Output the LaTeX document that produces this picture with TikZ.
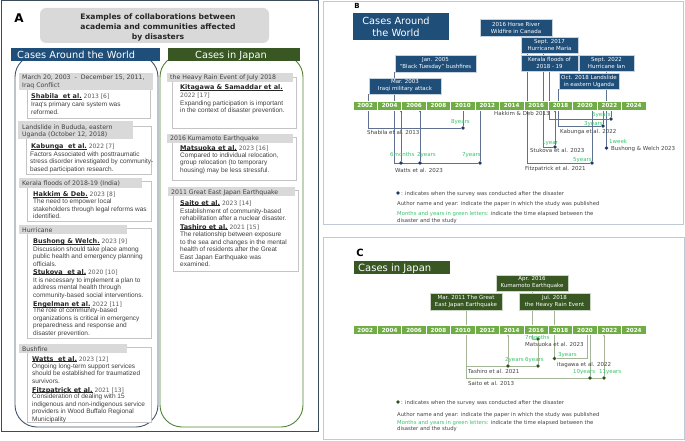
\documentclass[tikz,border=0pt]{standalone}
\usepackage{fontspec}
\setmainfont{DejaVu Sans}
\newfontfamily\bodyfont{Liberation Sans}
\usetikzlibrary{arrows.meta,backgrounds}

\definecolor{navy}{HTML}{1F4E79}
\definecolor{jgreen}{HTML}{385723}
\definecolor{wframe}{HTML}{44546A}
\definecolor{jframe}{HTML}{548235}
\definecolor{aborder}{HTML}{3B4A5C}
\definecolor{lblgray}{HTML}{D9D9D9}
\definecolor{boxline}{HTML}{C4C4C4}
\definecolor{bargreen}{HTML}{70AD47}
\definecolor{bline}{HTML}{5F7090}
\definecolor{bdot}{HTML}{1F3864}
\definecolor{cline}{HTML}{A3B596}
\definecolor{cdot}{HTML}{30501E}
\definecolor{yrsgreen}{HTML}{35C46A}
\definecolor{txtgray}{HTML}{404040}
\definecolor{authgray}{HTML}{595959}
\definecolor{panelline}{HTML}{C2C9D6}

% bold author name, underlined just under the baseline
\newcommand{\au}[1]{{\fontsize{6.5}{8}\selectfont\bfseries\color{black!85}\setbox0\hbox{#1}\rlap{\rule[-0.9pt]{\wd0}{0.45pt}}\box0}}

% multi-line nodes: the base anchor sits on the last line
\tikzset{
  wbox/.style={draw=boxline, fill=white, line width=0.5pt},
  glbl/.style={fill=lblgray},
  casetitle/.style={anchor=base west, inner sep=0pt, text=txtgray, align=left, font={\fontsize{6.2}{8}\selectfont}},
  author/.style={anchor=base west, inner sep=0pt, text=authgray, align=left, font={\fontsize{6}{8}\selectfont}},
  body/.style={anchor=base west, inner sep=0pt, text=txtgray, align=left, font={\bodyfont\fontsize{6.5}{7.5}\selectfont}},
  hdr/.style={anchor=base west, inner sep=0pt, text=white, align=left, font={\fontsize{9.8}{11.5}\selectfont}},
  evB/.style={fill=navy, draw=white!75!navy, line width=0.4pt, text=white, align=center, inner sep=0pt, font={\fontsize{5.5}{7}\selectfont}},
  evC/.style={evB, fill=jgreen, draw=white!75!jgreen},
  yearcell/.style={fill=bargreen, draw=white, line width=0.7pt, minimum width=24.42pt, minimum height=9pt, inner sep=0pt, text=white, font={\bfseries\fontsize{5.6}{6}\selectfont}},
  bl/.style={draw=bline, line width=0.7pt},
  cl/.style={draw=cline, line width=0.8pt},
  bdotst/.style={circle, fill=bdot, inner sep=0pt, minimum size=3.6pt},
  cdotst/.style={bdotst, fill=cdot},
  yrs/.style={anchor=base west, inner sep=0pt, text=yrsgreen, font={\fontsize{5.5}{6}\selectfont}},
  paper/.style={anchor=base west, inner sep=0pt, text=txtgray, font={\fontsize{5.5}{6}\selectfont}},
  legend/.style={anchor=base west, inner sep=0pt, text=txtgray, align=left, font={\fontsize{5.3}{6.7}\selectfont}},
  >={Stealth[length=2.4pt,width=2.2pt]}
}

\begin{document}
\begin{tikzpicture}[x=1pt,y=-1pt]
\useasboundingbox (0,0) rectangle (685,441);

% ---------- A ----------
\draw[aborder, line width=1pt] (1,1) rectangle (318,431);
\node[font={\bfseries\fontsize{12}{12}\selectfont}] (labA) at (19,18) {A};
\fill[lblgray, rounded corners=6pt] (40,8) rectangle (269,43);
\node[anchor=base, inner sep=0pt, align=center, text=black!85, font={\bfseries\fontsize{7.6}{10}\selectfont}] (titleA) at (158,39.5)
  {Examples of collaborations between\\academia and communities affected\\by disasters};

\draw[wframe, line width=0.9pt, rounded corners=22pt] (15,55) rectangle (158,427);
\draw[jframe, line width=0.9pt, rounded corners=22pt] (160,55) rectangle (303,427);
\fill[navy] (11,48) rectangle (160,61);
\node[hdr] (hdrW) at (17,58.5) {Cases Around the World};
\fill[jgreen] (168,48) rectangle (300,61);
\node[hdr] (hdrJ) at (195,58.5) {Cases in Japan};

% world cases
\draw[wbox] (27,80) rectangle (150,118);
\fill[glbl] (19,73) rectangle (153,90);
\node[casetitle] (w1t) at (22,88) {March 20, 2003\ \ -\ \ December 15, 2011,\\Iraq Conflict};
\node[author] (w1a) at (31,99) {\au{Shabila\ \ et al.} 2013 [6]};
\node[body] (w1b) at (31,114) {Iraq's primary care system was\\reformed.};

\draw[wbox] (26,126) rectangle (151,174);
\fill[glbl] (18,121) rectangle (133,139);
\node[casetitle] (w2t) at (22,137) {Landslide in Bududa, eastern\\Uganda (October 12, 2018)};
\node[author] (w2a) at (31,149) {\au{Kabunga\ \ et al.} 2022 [7]};
\node[body] (w2b) at (30,171.5) {Factors Associated with posttraumatic\\stress disorder investigated by community-\\based participation research.};

\draw[wbox] (27,181) rectangle (151,221);
\fill[glbl] (19,178) rectangle (142,188);
\node[casetitle] (w3t) at (22,185.5) {Kerala floods of 2018-19 (India)};
\node[author] (w3a) at (33,196.5) {\au{Hakkim \& Deb.} 2023 [8]};
\node[body] (w3b) at (33,218.5) {The need to empower local\\stakeholders through legal reforms was\\identified.};

\draw[wbox] (27,228) rectangle (151,338);
\fill[glbl] (19,225) rectangle (127,234);
\node[casetitle] (w4t) at (22,232) {Hurricane};
\node[author] (w4a) at (33,243.5) {\au{Bushong \& Welch.} 2023 [9]};
\node[body] (w4b) at (33,266) {Discussion should take place among\\public health and emergency planning\\officials.};
\node[author] (w4c) at (33,274) {\au{Stukova\ \ et al.} 2020 [10]};
\node[body] (w4d) at (33,297) {It is necessary to implement a plan to\\address mental health through\\community-based social interventions.};
\node[author] (w4e) at (33,306.5) {\au{Engelman et al.} 2022 [11]};
\node[body] (w4f) at (33,335) {The role of community-based\\organizations is critical in emergency\\preparedness and response and\\disaster prevention.};

\draw[wbox] (27,347) rectangle (151,422);
\fill[glbl] (19,344) rectangle (127,353);
\node[casetitle] (w5t) at (22,351) {Bushfire};
\node[author] (w5a) at (32,361) {\au{Watts\ \ et al.} 2023 [12]};
\node[body] (w5b) at (32,383) {Ongoing long-term support services\\should be established for traumatized\\survivors.};
\node[author] (w5c) at (32,392) {\au{Fitzpatrick et al.} 2021 [13]};
\node[body] (w5d) at (32,421) {Consideration of dealing with 15\\indigenous and non-indigenous service\\providers in Wood Buffalo Regional\\Municipality};

% japan cases
\draw[wbox] (172,77) rectangle (296,128);
\fill[glbl] (167,73) rectangle (293,82);
\node[casetitle] (j1t) at (170,80) {the Heavy Rain Event of July 2018};
\node[author] (j1a) at (180,98) {\au{Kitagawa \& Samaddar et al.}\\2022 [17]};
\node[body] (j1b) at (180,113) {Expanding participation is important\\in the context of disaster prevention.};

\draw[wbox] (172,137) rectangle (296,180);
\fill[glbl] (167,134) rectangle (293,143);
\node[casetitle] (j2t) at (170,141) {2016 Kumamoto Earthquake};
\node[author] (j2a) at (180,150) {\au{Matsuoka et al.} 2023 [16]};
\node[body] (j2b) at (180,172) {Compared to individual relocation,\\group relocation (to temporary\\housing) may be less stressful.};

\draw[wbox] (173,190) rectangle (298,271);
\fill[glbl] (168,187) rectangle (295,196);
\node[casetitle] (j3t) at (171,194) {2011 Great East Japan Earthquake};
\node[author] (j3a) at (180,205) {\au{Saito et al.} 2023 [14]};
\node[body] (j3b) at (180,220.5) {Establishment of community-based\\rehabilitation after a nuclear disaster.};
\node[author] (j3c) at (180,229) {\au{Tashiro et al.} 2021 [15]};
\node[body] (j3d) at (180,266.5) {The relationship between exposure\\to the sea and changes in the mental\\health of residents after the Great\\East Japan Earthquake was\\examined.};

% ---------- B ----------
\draw[panelline, line width=0.8pt] (323,1) rectangle (683,224);
\node[font={\bfseries\fontsize{7}{7}\selectfont}] (labB) at (357,5.5) {B};
\fill[navy] (353,13) rectangle (449,40);
\node[anchor=base, inner sep=0pt, align=center, text=white, font={\fontsize{9.8}{11.5}\selectfont}] (ttlB) at (396,36.5) {Cases Around\\the World};

\node[evB, minimum width=72pt, minimum height=16pt] (iraq) at (405,86) {Mar. 2003\\Iraqi military attack};
\node[evB, minimum width=81pt, minimum height=17pt] (bushfire) at (435.5,63.5) {Jan. 2005\\“Black Tuesday” bushfires};
\node[evB, minimum width=72pt, minimum height=17pt] (horse) at (516,27.5) {2016 Horse River\\Wildfire in Canada};
\node[evB, minimum width=57pt, minimum height=16pt] (maria) at (549.5,45) {Sept. 2017\\Hurricane Maria};
\node[evB, minimum width=57pt, minimum height=16pt] (kerala) at (549.5,63) {Kerala floods of\\2018 - 19};
\node[evB, minimum width=55pt, minimum height=16pt] (ian) at (606.5,63) {Sept. 2022\\Hurricane Ian};
\node[evB, minimum width=60pt, minimum height=16pt] (uganda) at (589,81) {Oct. 2018 Landslide\\in eastern Uganda};

\foreach \i [evaluate=\i as \yr using int(2002+2*\i)] in {0,...,11}
  \node[yearcell] (ybB\i) at (365.21+24.42*\i,105.5) {\yr};
\coordinate (barB) at (353,110);
\coordinate (horseT) at (527,36);
\coordinate (mariaT) at (543,53);

\node[bdotst] (shabD) at (463,128) {};
\node[bdotst] (wattsA) at (401,163) {};
\node[bdotst] (wattsB) at (420,163) {};
\node[bdotst] (wattsC) at (480,163) {};
\node[bdotst] (fitzD) at (592,163) {};
\node[bdotst] (stukD) at (555,147) {};
\node[bdotst] (hakkD) at (611,119) {};
\node[bdotst] (kabD) at (603,126) {};
\node[bdotst] (bushD) at (606.5,148) {};

\begin{scope}[on background layer]
\draw[bl] (iraq.south west) |- (shabD);
\draw[bl] (bushfire.south west) |- (wattsC);
\draw[bl] (horseT) |- (fitzD);
\draw[bl] (mariaT) |- (stukD);
\draw[bl] (kerala.south) |- (hakkD);
\draw[bl] (uganda.south west) |- (kabD);
\draw[bl] (ian.south) -- (bushD);
\draw[bl] (barB -| shabD) -- (shabD);
\draw[bl,<-] (barB -| wattsA) -- (wattsA);
\draw[bl,<-] (barB -| wattsB) -- (wattsB);
\draw[bl] (barB -| wattsC) -- (wattsC);
\draw[bl] (barB -| fitzD) -- (fitzD);
\draw[bl,<-] (barB -| stukD) -- (stukD);
\draw[bl] (barB -| hakkD) -- (hakkD);
\draw[bl] (barB -| kabD) -- (kabD);
\end{scope}

\node[yrs, anchor=base east] (y8) at (470,124) {8years};
\node[paper] (pShab) at (367,135) {Shabila et al. 2013};
\node[yrs] (y6m) at (390,157) {6months};
\node[yrs] (y2) at (417,157) {2years};
\node[yrs] (y7) at (462,157) {7years};
\node[paper] (pWatts) at (395,172) {Watts et al. 2023};
\node[paper] (pHakk) at (494,116) {Hakkim \& Deb 2013};
\node[yrs] (y5a) at (592,117) {5years};
\node[yrs] (y3) at (584,125) {3years};
\node[paper] (pKab) at (560,133) {Kabunga et al. 2022};
\node[yrs] (y1) at (542,144) {1year};
\node[paper] (pStuk) at (530,153) {Stukova et al. 2023};
\node[yrs] (y5b) at (573,161) {5years};
\node[paper] (pFitz) at (525,170) {Fitzpatrick et al. 2021};
\node[yrs] (y1w) at (609,143) {1week};
\node[paper] (pBush) at (611,150.5) {Bushong \& Welch 2023};

\node[bdotst] (legBd) at (398,193) {};
\node[legend] (legB1) at (401,195) {: indicates when the survey was conducted after the disaster};
\node[legend] (legB2) at (397,205.5) {Author name and year: indicate the paper in which the study was published};
\node[legend] (legB3) at (397,222.2) {\textcolor{yrsgreen}{Months and years in green letters:} indicate the time elapsed between the\\disaster and the study};

% ---------- C ----------
\draw[panelline, line width=0.8pt] (323,237) rectangle (684,439);
\node[font={\bfseries\fontsize{10}{10}\selectfont}] (labC) at (360,253) {C};
\fill[jgreen] (354,261) rectangle (450,274);
\node[hdr, font={\fontsize{10}{11}\selectfont}] (ttlC) at (358,271.5) {Cases in Japan};

\node[evC, minimum width=72pt, minimum height=16pt] (kuma) at (532,283) {Apr. 2016\\Kumamoto Earthquake};
\node[evC, minimum width=72pt, minimum height=17pt] (tohoku) at (466,301.5) {Mar. 2011 The Great\\East Japan Earthquake};
\node[evC, minimum width=71pt, minimum height=17pt] (rain) at (554.5,301.5) {Jul. 2018\\the Heavy Rain Event};

\foreach \i [evaluate=\i as \yr using int(2002+2*\i)] in {0,...,11}
  \node[yearcell, minimum height=8.5pt] (ybC\i) at (365.21+24.42*\i,330) {\yr};
\coordinate (barC) at (353,334.25);
\coordinate (kitaR) at (587,334.25);

\node[cdotst] (matsuD) at (538,339) {};
\node[cdotst] (tashA) at (508,366) {};
\node[cdotst] (tashB) at (538,366) {};
\node[cdotst] (kitaD) at (554.5,358.5) {};
\node[cdotst] (saitoA) at (590,378) {};
\node[cdotst] (saitoB) at (604,378) {};

\begin{scope}[on background layer]
\draw[cl] (tohoku.south) |- (saitoB);
\draw[cl] (tohoku.south |- tashB) -- (tashB);
\draw[cl] (kuma.south) |- (matsuD);
\draw[cl] (rain.south) -- (kitaD);
\draw[cl] (kitaD) -| (kitaR);
\draw[cl] (matsuD) -- (tashB);
\draw[cl,<-] (barC -| tashA) -- (tashA);
\draw[cl] (barC -| saitoA) -- (saitoA);
\draw[cl,<-] (barC -| saitoB) -- (saitoB);
\end{scope}

\node[yrs] (y7m) at (525,339) {7months};
\node[paper] (pMats) at (525,346) {Matsuoka et al. 2023};
\node[yrs] (y2c) at (505,361) {2years};
\node[yrs] (y6c) at (525,361) {6years};
\node[yrs] (y3c) at (558,356.5) {3years};
\node[paper] (pKita) at (557,366) {itagawa et al. 2022};
\node[paper] (pTash) at (468,373) {Tashiro et al. 2021};
\node[yrs] (y10) at (573,373) {10years};
\node[yrs] (y11) at (599,373) {11years};
\node[paper] (pSaito) at (468,385) {Saito et al. 2013};

\node[cdotst] (legCd) at (398,402) {};
\node[legend] (legC1) at (401,404) {: indicates when the survey was conducted after the disaster};
\node[legend] (legC2) at (397,416) {Author name and year: indicate the paper in which the study was published};
\node[legend] (legC3) at (397,430.7) {\textcolor{yrsgreen}{Months and years in green letters:} indicate the time elapsed between the\\disaster and the study};
\end{tikzpicture}
\end{document}
